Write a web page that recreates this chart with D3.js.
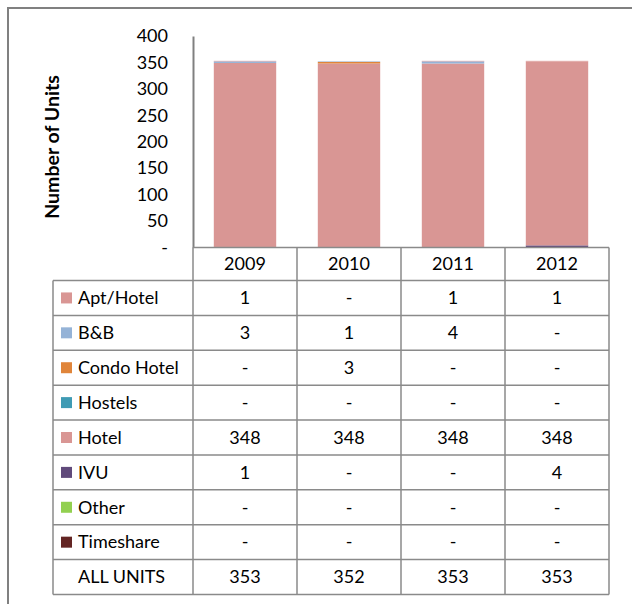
<!DOCTYPE html>
<html>
<head>
<meta charset="utf-8">
<script src="https://cdn.jsdelivr.net/npm/d3@7"></script>
<style>
    body { margin: 0; background: #fff; }
    text { font-family: Lato, "Open Sans", sans-serif; fill: #000; }
</style>
</head>
<body>
<div id="chart-area"></div>
<script>
// data
let years = ["2009", "2010", "2011", "2012"];
let seriesNames = ["Apt/Hotel", "B&B", "Condo Hotel", "Hostels", "Hotel", "IVU", "Other", "Timeshare"];
let seriesColors = ["#d99694", "#95b3d7", "#e0853a", "#3f9bb4", "#d99694", "#604a7b", "#92d050", "#632523"];
let aptHotel = [1, 0, 1, 1];
let bnb = [3, 1, 4, 0];
let condoHotel = [0, 3, 0, 0];
let hostels = [0, 0, 0, 0];
let hotel = [348, 348, 348, 348];
let ivu = [1, 0, 0, 4];
let other = [0, 0, 0, 0];
let timeshare = [0, 0, 0, 0];
let allUnits = [353, 352, 353, 353];
let yTicks = [0, 50, 100, 150, 200, 250, 300, 350, 400];

let seriesValues = [aptHotel, bnb, condoHotel, hostels, hotel, ivu, other, timeshare];

let svg = d3.select("#chart-area")
    .append("svg")
    .attr("width", 632)
    .attr("height", 604);

// outer frame (only top and left edges show)
svg.append("path")
    .attr("d", "M8,604 V8 H632")
    .attr("fill", "none")
    .attr("stroke", "#808080")
    .attr("stroke-width", 2);

let x = d3.scaleBand()
    .domain(years)
    .range([193, 609])
    .paddingInner(0.4)
    .paddingOuter(0.2);

let y = d3.scaleLinear()
    .domain([0, 400])
    .range([247.5, 36]);

// one row per year for stacking
let table = years.map(function (yr, i) {
    let row = { year: yr };
    seriesNames.forEach(function (s, j) {
        row[s] = seriesValues[j][i];
    });
    return row;
});

// last legend entry sits at the bottom of the stack
let stack = d3.stack().keys(seriesNames.slice().reverse());
let layers = stack(table);

let colorOf = d3.scaleOrdinal().domain(seriesNames).range(seriesColors);

svg.selectAll("g.layer")
    .data(layers)
    .enter().append("g")
    .attr("class", "layer")
    .attr("fill", (d) => colorOf(d.key))
    .selectAll("rect")
    .data((d) => d)
    .enter().append("rect")
    .attr("x", (d) => x(d.data.year))
    .attr("y", (d) => y(d[1]))
    .attr("width", x.bandwidth())
    .attr("height", (d) => y(d[0]) - y(d[1]));

// y axis
let yAxis = d3.axisLeft(y)
    .tickValues(yTicks)
    .tickSize(0)
    .tickSizeOuter(0)
    .tickPadding(25)
    .tickFormat((d) => d === 0 ? "-" : d);

let yg = svg.append("g")
    .attr("transform", "translate(193,0)")
    .call(yAxis);
yg.select(".domain").attr("stroke", "#808080").attr("stroke-width", 2);
yg.selectAll("text")
    .style("font-family", "Lato, sans-serif")
    .style("font-size", "18px")
    .attr("fill", "#000");

svg.append("text")
    .attr("transform", "translate(59,147) rotate(-90)")
    .attr("text-anchor", "middle")
    .style("font-size", "19.5px")
    .style("font-weight", "bold")
    .text("Number of Units");

// data table
let gridColor = "#8a8a8a";
let step = x.step();
let colLeft = 193;
let legendLeft = 53;
let headTop = 247.5;
let headBottom = 280.5;
let rowH = (594.5 - headBottom) / 9;
let fs = "18px";

let grid = svg.append("g")
    .attr("stroke", gridColor)
    .attr("stroke-width", 1.5)
    .attr("fill", "none");

grid.append("line")
    .attr("x1", colLeft).attr("x2", colLeft + 4 * step)
    .attr("y1", headTop).attr("y2", headTop);
for (let i = 0; i <= 9; i++) {
    grid.append("line")
        .attr("x1", legendLeft)
        .attr("x2", colLeft + 4 * step)
        .attr("y1", headBottom + i * rowH).attr("y2", headBottom + i * rowH);
}
grid.append("line")
    .attr("x1", legendLeft).attr("x2", legendLeft)
    .attr("y1", headBottom).attr("y2", headBottom + 9 * rowH);
for (let i = 0; i <= 4; i++) {
    grid.append("line")
        .attr("x1", colLeft + i * step).attr("x2", colLeft + i * step)
        .attr("y1", headTop).attr("y2", headBottom + 9 * rowH);
}

// year headers
svg.selectAll("text.year")
    .data(years)
    .enter().append("text")
    .attr("class", "year")
    .attr("x", (d) => x(d) + x.bandwidth() / 2)
    .attr("y", (headTop + headBottom) / 2)
    .attr("dy", "0.35em")
    .attr("text-anchor", "middle")
    .style("font-size", fs)
    .text((d) => d);

// series rows
let rowsData = seriesNames.map(function (s, j) {
    return { name: s, color: seriesColors[j], values: seriesValues[j] };
});
rowsData.push({ name: "ALL UNITS", color: null, values: allUnits });

let rows = svg.selectAll("g.row")
    .data(rowsData)
    .enter().append("g")
    .attr("class", "row")
    .attr("transform", (d, i) => "translate(0," + (headBottom + i * rowH + rowH / 2) + ")");

rows.filter((d) => d.color)
    .append("rect")
    .attr("x", 61)
    .attr("y", -5.5)
    .attr("width", 11)
    .attr("height", 11)
    .attr("fill", (d) => d.color);

rows.append("text")
    .attr("x", 78)
    .attr("dy", "0.35em")
    .style("font-size", fs)
    .text((d) => d.name);

rows.selectAll("text.val")
    .data((d) => d.values)
    .enter().append("text")
    .attr("class", "val")
    .attr("x", (d, i) => x(years[i]) + x.bandwidth() / 2)
    .attr("dy", "0.35em")
    .attr("text-anchor", "middle")
    .style("font-size", fs)
    .text((d) => d === 0 ? "-" : d);
</script>
</body>
</html>
